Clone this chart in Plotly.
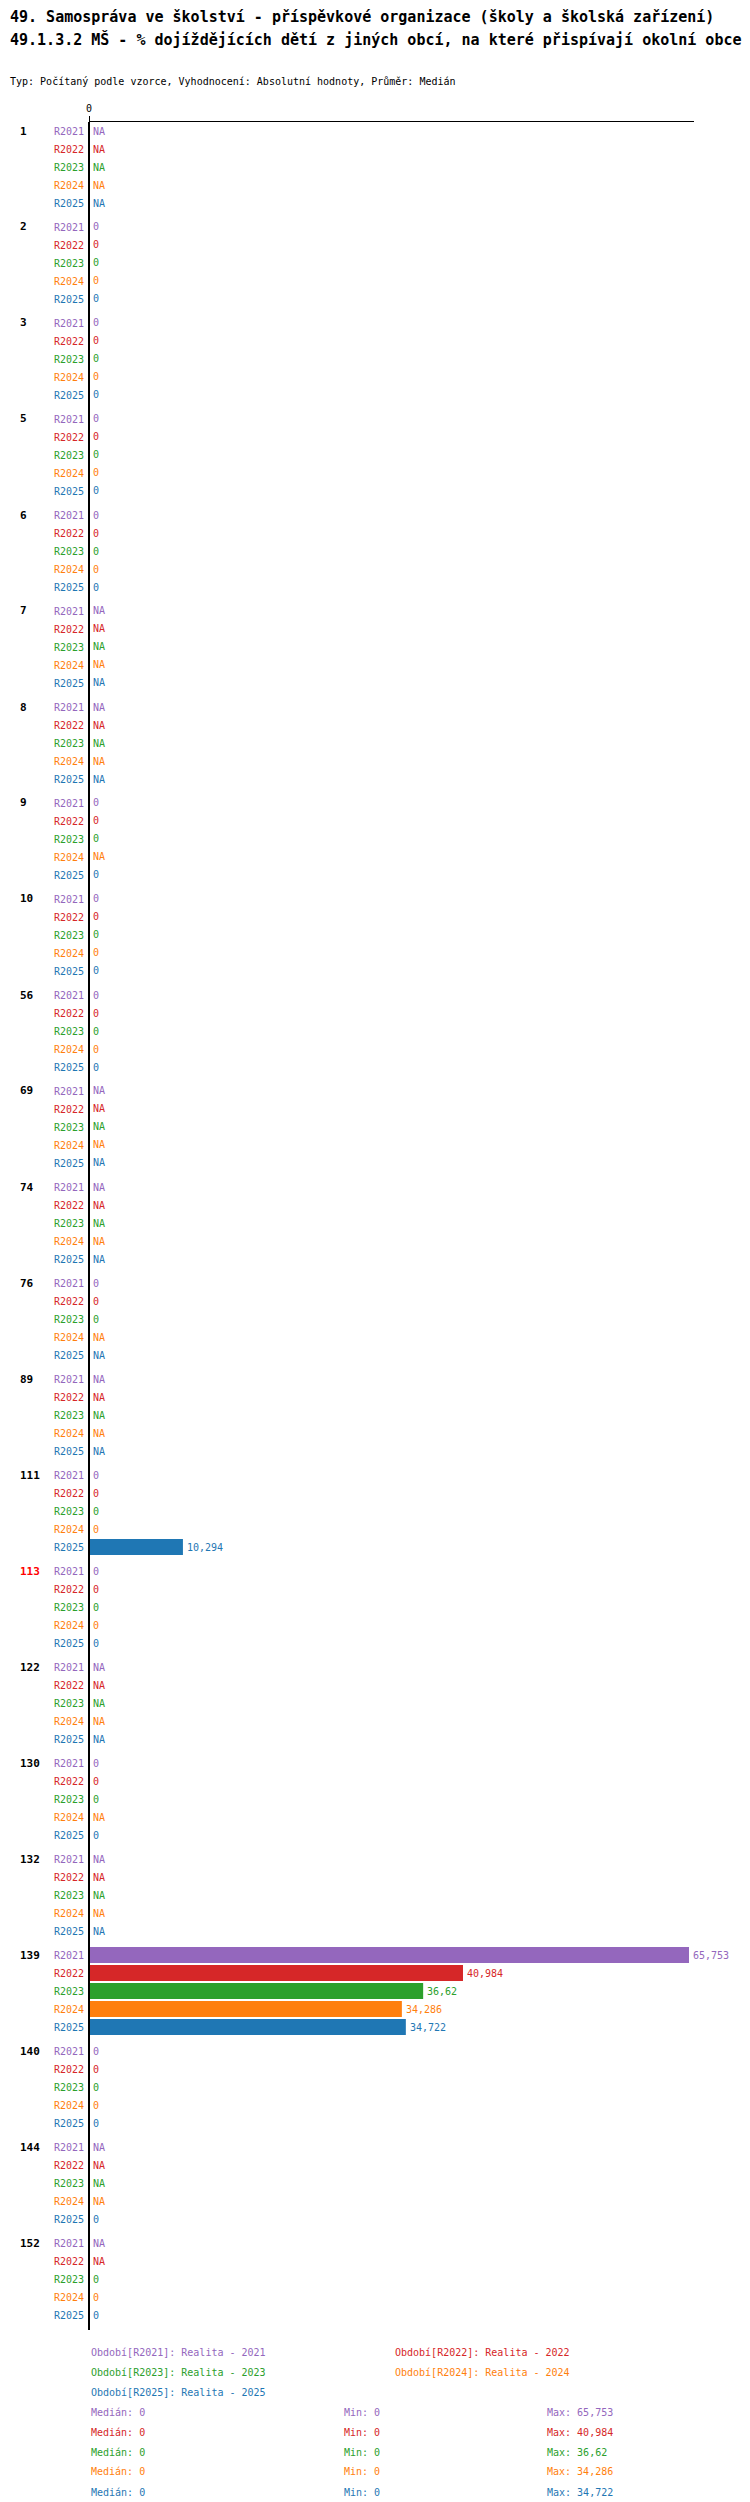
import numpy as np
import plotly.graph_objects as go
from plotly.subplots import make_subplots

groups = ["1", "2", "3", "5", "6", "7", "8", "9", "10", "56", "69", "74",
          "76", "89", "111", "113", "122", "130", "132", "139", "140", "144", "152"]
highlight = "113"

periods = ["R2021", "R2022", "R2023", "R2024", "R2025"]
period_names = ["Realita - 2021", "Realita - 2022", "Realita - 2023",
                "Realita - 2024", "Realita - 2025"]
colors = ["#9467bd", "#d62728", "#2ca02c", "#ff7f0e", "#1f77b4"]

N = None
r2021 = [N, 0, 0, 0, 0, N, N, 0, 0, 0, N, N, 0, N, 0, 0, N, 0, N, 65.753, 0, N, N]
r2022 = [N, 0, 0, 0, 0, N, N, 0, 0, 0, N, N, 0, N, 0, 0, N, 0, N, 40.984, 0, N, N]
r2023 = [N, 0, 0, 0, 0, N, N, 0, 0, 0, N, N, 0, N, 0, 0, N, 0, N, 36.62, 0, N, 0]
r2024 = [N, 0, 0, 0, 0, N, N, N, 0, 0, N, N, N, N, 0, 0, N, N, N, 34.286, 0, N, 0]
r2025 = [N, 0, 0, 0, 0, N, N, 0, 0, 0, N, N, N, N, 10.294, 0, N, 0, N, 34.722, 0, 0, 0]
series = [r2021, r2022, r2023, r2024, r2025]

title_1 = "49. Samospráva ve školství - příspěvkové organizace (školy a školská zařízení)"
title_2 = "49.1.3.2 MŠ - % dojíždějících dětí z jiných obcí, na které přispívají okolní obce"
subtitle = "Typ: Počítaný podle vzorce, Vyhodnocení: Absolutní hodnoty, Průměr: Medián"

FONT = "DejaVu Sans Mono"
W, H = 750, 2502
M_L, M_R, M_T, M_B = 81, 64, 114, 186
PW = W - M_L - M_R
PH = H - M_T - M_B
GAP = 6


def fmt(v):
    if v is None:
        return "NA"
    return f"{v:g}".replace(".", ",")


def px_x(x):
    return (x - M_L) / PW


def px_y(y):
    return (H - M_B - y) / PH


n = len(groups)
fig = make_subplots(rows=n, cols=1, vertical_spacing=GAP / PH)

for g, name in enumerate(groups):
    row = g + 1
    xref = "x" if row == 1 else f"x{row}"
    yref = "y" if row == 1 else f"y{row}"
    for p, per in enumerate(periods):
        v = series[p][g]
        fig.add_trace(go.Bar(
            x=[v], y=[per], orientation="h",
            marker_color=colors[p], marker_line_width=0,
            hoverinfo="skip",
        ), row=row, col=1)
        # value label right of the bar end (or of the zero line for NA)
        fig.add_annotation(
            x=v if v is not None else 0, xref=xref, xanchor="left", xshift=2,
            y=p, yref=yref, yanchor="middle",
            text=fmt(v), showarrow=False,
            font=dict(family=FONT, size=10, color=colors[p]),
        )

    ticktext = [f"<span style='color:{c}'>{per}</span>" for per, c in zip(periods, colors)]
    fig.update_yaxes(
        type="category", categoryorder="array", categoryarray=periods,
        range=[4.5, -0.5], tickvals=periods, ticktext=ticktext,
        tickfont=dict(family=FONT, size=10), ticks="", ticklabelstandoff=4,
        showgrid=False, zeroline=False, showline=False, fixedrange=True,
        row=row, col=1,
    )
    fig.update_xaxes(range=[0, 66.3], visible=False, row=row, col=1)

    fig.add_annotation(
        x=px_x(10), xref="paper", xanchor="left",
        y=0, yref=yref, yanchor="middle",
        text=f"<b>{name}</b>", showarrow=False,
        font=dict(family=FONT, size=11, color="#ff0000" if name == highlight else "black"),
    )

fig.update_xaxes(
    visible=True, side="top", tickvals=[0], ticktext=["0"],
    ticks="outside", ticklen=5, tickcolor="black", tickwidth=1,
    showline=True, linecolor="black", linewidth=1,
    showgrid=False, zeroline=False,
    tickfont=dict(family=FONT, size=10, color="black"),
    row=1, col=1,
)

# continuous zero line through all the groups
fig.add_shape(type="line", xref="paper", yref="paper",
              x0=0, x1=0, y0=-GAP / PH, y1=1,
              line=dict(color="black", width=2))

# titles
for text, y, size, bold in [(title_1, 9, 15, True), (title_2, 31, 15, True),
                            (subtitle, 73, 10, False)]:
    fig.add_annotation(
        x=px_x(0), xref="paper", xanchor="left",
        y=px_y(y), yref="paper", yanchor="middle",
        text=f"<b>{text}</b>" if bold else text, showarrow=False,
        font=dict(family=FONT, size=size, color="black"),
    )

# legend block
legend_pos = [(81, 2344), (385, 2344), (81, 2364), (385, 2364), (81, 2384)]
for p, per in enumerate(periods):
    x, y = legend_pos[p]
    fig.add_annotation(
        x=px_x(x), xref="paper", xanchor="left",
        y=px_y(y), yref="paper", yanchor="middle",
        text=f"Období[{per}]: {period_names[p]}", showarrow=False,
        font=dict(family=FONT, size=10, color=colors[p]),
    )

for p, per in enumerate(periods):
    vals = np.array([v for v in series[p] if v is not None], dtype=float)
    y = 2404 + p * 20
    stats = [(81, "Medián", np.median(vals)), (334, "Min", vals.min()), (537, "Max", vals.max())]
    for x, label, v in stats:
        fig.add_annotation(
            x=px_x(x), xref="paper", xanchor="left",
            y=px_y(y), yref="paper", yanchor="middle",
            text=f"{label}: {fmt(round(float(v), 3))}", showarrow=False,
            font=dict(family=FONT, size=10, color=colors[p]),
        )

fig.update_layout(
    width=W, height=H,
    margin=dict(l=M_L, r=M_R, t=M_T, b=M_B),
    paper_bgcolor="white", plot_bgcolor="white",
    showlegend=False, bargap=0.11,
    font=dict(family=FONT, size=10, color="black"),
)

fig.write_html("out.html")
